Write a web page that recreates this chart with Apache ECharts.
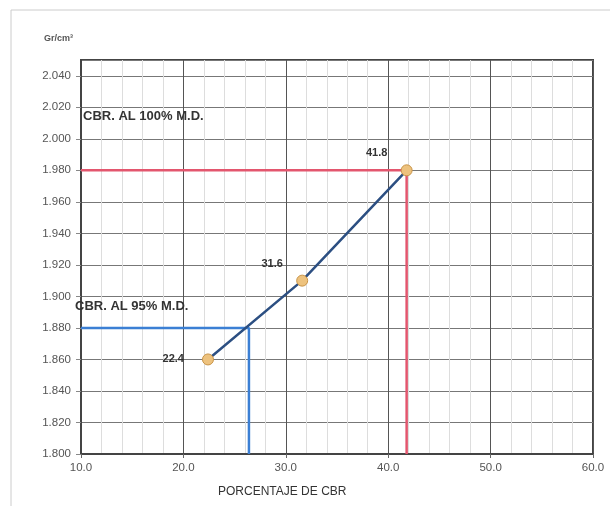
<!DOCTYPE html>
<html>
<head>
<meta charset="utf-8">
<script src="https://cdn.jsdelivr.net/npm/echarts@6/dist/echarts.min.js"></script>
<style>html,body{margin:0;padding:0;background:#fff}#c{width:610px;height:506px}</style>
</head>
<body>
<div id="c"></div>
<script>
// Data
var cbrValues = [22.4, 31.6, 41.8];
var densityValues = [1.860, 1.910, 1.980];
var cbr100 = 41.8, dens100 = 1.980;
var cbr95 = 26.4, dens95 = 1.880;
var xTicks = [10, 20, 30, 40, 50, 60];
var yMin = 1.800, yMax = 2.050, yStep = 0.020;
var label100 = 'CBR. AL 100% M.D.';
var label95 = 'CBR. AL 95% M.D.';
var yUnit = 'Gr/cm³';
var xTitle = 'PORCENTAJE DE CBR';

var chart = echarts.init(document.getElementById('c'));
var mainData = cbrValues.map(function (v, i) { return [v, densityValues[i]]; });
var xMin = xTicks[0], xMax = xTicks[xTicks.length - 1];

chart.setOption({
  animation: false,
  backgroundColor: '#fff',
  grid: { left: 81, right: 17, top: 60, bottom: 52, show: true, borderColor: '#444', borderWidth: 2 },
  xAxis: {
    type: 'value', min: xMin, max: xMax, interval: 10,
    axisLine: { show: true, lineStyle: { color: '#444', width: 2 } },
    axisTick: { show: true, length: 4, lineStyle: { color: '#666' } },
    axisLabel: { color: '#555', fontSize: 11.5, fontFamily: 'Liberation Sans', margin: 8,
      formatter: function (v) { return v.toFixed(1); } },
    splitLine: { show: true, lineStyle: { color: '#555', width: 1 } },
    minorTick: { show: false, splitNumber: 5 },
    minorSplitLine: { show: true, lineStyle: { color: '#ddd', width: 1 } }
  },
  yAxis: {
    type: 'value', min: yMin, max: yMax, interval: yStep,
    axisLine: { show: true, lineStyle: { color: '#444', width: 2 } },
    axisTick: { show: true, length: 5, lineStyle: { color: '#888' } },
    axisLabel: { color: '#555', fontSize: 11.5, fontFamily: 'Liberation Sans', margin: 10, showMaxLabel: false,
      formatter: function (v) { return v.toFixed(3); } },
    splitLine: { show: true, lineStyle: { color: '#777', width: 1 } }
  },
  graphic: [
    { type: 'rect', shape: { x: 11, y: 10, width: 640, height: 540 }, style: { fill: 'none', stroke: '#ccc', lineWidth: 1 }, silent: true, z: -10 },
    { type: 'text', left: 44, top: 34, z: 100, style: { text: yUnit, font: 'bold 9px Liberation Sans', fill: '#555' } },
    { type: 'text', left: 83, top: 110, z: 100, style: { text: label100, font: 'bold 13px Liberation Sans', fill: '#333' } },
    { type: 'text', left: 75, top: 300, z: 100, style: { text: label95, font: 'bold 13px Liberation Sans', fill: '#333' } },
    { type: 'text', left: 218, top: 486, z: 100, style: { text: xTitle, font: '12px Liberation Sans', fill: '#333' } }
  ],
  series: [
    { type: 'line', data: [[xMin, dens100], [cbr100, dens100], [cbr100, yMin]], symbol: 'none',
      lineStyle: { color: '#e3566e', width: 2.5 }, z: 2 },
    { type: 'line', data: [[xMin, dens95], [cbr95, dens95], [cbr95, yMin]], symbol: 'none',
      lineStyle: { color: '#3b7fd4', width: 2.5 }, z: 2 },
    { type: 'line', data: mainData, symbol: 'circle', symbolSize: 11,
      lineStyle: { color: '#2c4f82', width: 2.5 },
      itemStyle: { color: '#edc27e', borderColor: '#c99447', borderWidth: 1 },
      label: { show: true, fontSize: 11, fontWeight: 'bold', color: '#333', fontFamily: 'Liberation Sans',
        formatter: function (p) { return p.value[0].toFixed(1); },
        position: 'left' },
      labelLayout: function (params) {
        var i = params.dataIndex;
        var r = params.rect;
        var cx = r.x + r.width / 2, cy = r.y + r.height / 2;
        if (i === 0) return { x: cx - 24, y: cy, align: 'right', verticalAlign: 'middle' };
        return { x: cx - 30, y: cy - 17, align: 'center', verticalAlign: 'middle' };
      },
      z: 5 }
  ]
});
</script>
</body>
</html>
